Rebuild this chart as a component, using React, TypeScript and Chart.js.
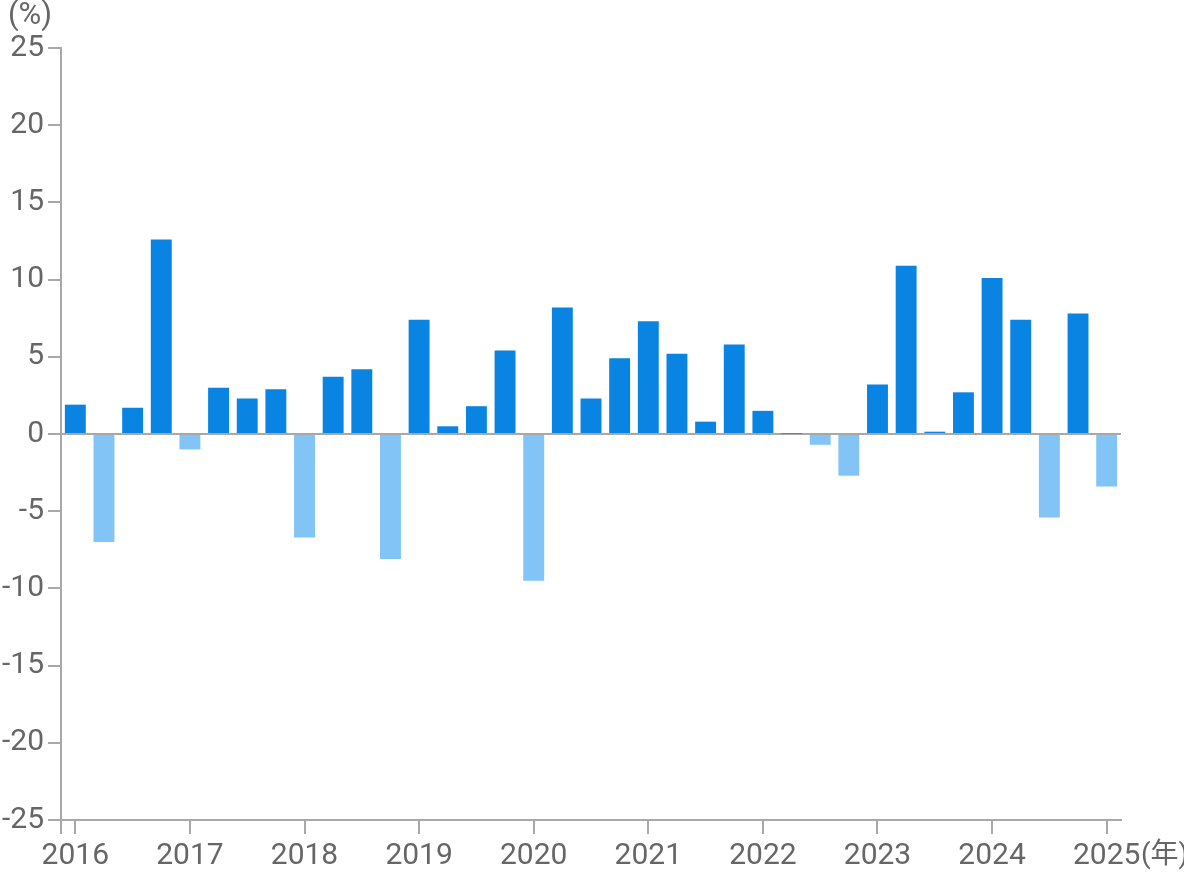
import React, { useEffect, useRef } from 'react';
import { Chart, registerables } from 'chart.js';

Chart.register(...registerables);

const years = ['2016', '2017', '2018', '2019', '2020', '2021', '2022', '2023', '2024', '2025'];
const quarterNames = ['Q1', 'Q2', 'Q3', 'Q4'];
const values = [
  1.9, -7.0, 1.7, 12.6,
  -1.0, 3.0, 2.3, 2.9,
  -6.7, 3.7, 4.2, -8.1,
  7.4, 0.5, 1.8, 5.4,
  -9.5, 8.2, 2.3, 4.9,
  7.3, 5.2, 0.8, 5.8,
  1.5, 0.02, -0.7, -2.7,
  3.2, 10.9, 0.15, 2.7,
  10.1, 7.4, -5.4, 7.8,
  -3.4,
];
const yUnit = '(%)';
const xUnit = '(年)';

const categories: string[] = values.map((_, i) => years[Math.floor(i / 4)] + quarterNames[i % 4]);

const POS = '#0a84e2';
const NEG = '#81c4f5';
const AXIS = '#a8a8a8';
const TEXT = '#666666';
const FONT = "Roboto, 'Noto Sans CJK JP', sans-serif";

const unitPlugin = {
  id: 'units',
  afterDraw(chart: any) {
    const ctx = chart.ctx;
    const area = chart.chartArea;
    ctx.save();
    ctx.fillStyle = TEXT;
    ctx.font = `31px ${FONT}`;
    ctx.textBaseline = 'middle';
    ctx.textAlign = 'left';
    ctx.fillText(yUnit, 8, 16);
    ctx.font = `28px ${FONT}`;
    ctx.fillText(xUnit, 1141, 856);
    ctx.strokeStyle = AXIS;
    ctx.lineWidth = 2;
    ctx.beginPath();
    ctx.moveTo(area.left, area.bottom);
    ctx.lineTo(area.left, area.bottom + 14);
    ctx.stroke();
    ctx.restore();
  },
};

export default function App() {
  const ref = useRef<HTMLCanvasElement | null>(null);
  useEffect(() => {
    if (!ref.current) return;
    const chart = new Chart(ref.current, {
      type: 'bar',
      data: {
        labels: categories,
        datasets: [
          {
            data: values,
            backgroundColor: values.map((v) => (v >= 0 ? POS : NEG)),
            borderWidth: 0,
            categoryPercentage: 1,
            barPercentage: 0.73,
          },
        ],
      },
      options: {
        animation: false,
        responsive: true,
        maintainAspectRatio: false,
        layout: { padding: { top: 48, right: 63, left: 0, bottom: 0 } },
        plugins: { legend: { display: false }, tooltip: { enabled: false } },
        scales: {
          x: {
            offset: true,
            afterFit: (s: any) => {
              s.height = 52;
            },
            grid: {
              offset: false,
              drawOnChartArea: false,
              tickLength: 14,
              lineWidth: 2,
              color: (c: any) => (c.index % 4 === 0 ? AXIS : 'rgba(0,0,0,0)'),
              tickColor: (c: any) => (c.index % 4 === 0 ? AXIS : 'rgba(0,0,0,0)'),
            },
            border: { color: AXIS, width: 2 },
            ticks: {
              autoSkip: false,
              maxRotation: 0,
              minRotation: 0,
              padding: 4,
              color: TEXT,
              font: { family: FONT, size: 30 },
              callback: (_v: any, i: number) => (i % 4 === 0 ? years[i / 4] : ''),
            },
          },
          y: {
            min: -25,
            max: 25,
            afterFit: (s: any) => {
              s.width = 61;
            },
            grid: {
              drawOnChartArea: true,
              tickLength: 13,
              lineWidth: 2,
              color: (c: any) => (c.tick && c.tick.value === 0 ? AXIS : 'rgba(0,0,0,0)'),
              tickColor: AXIS,
            },
            border: { color: AXIS, width: 2 },
            ticks: {
              stepSize: 5,
              padding: 4,
              color: TEXT,
              font: { family: FONT, size: 30 },
              callback: (v: any) => String(v),
            },
          },
        },
      },
      plugins: [unitPlugin],
    });
    return () => chart.destroy();
  }, []);
  return (
    <div style={{ position: 'fixed', left: 0, top: 0, width: 1184, height: 872 }}>
      <canvas ref={ref} />
    </div>
  );
}
